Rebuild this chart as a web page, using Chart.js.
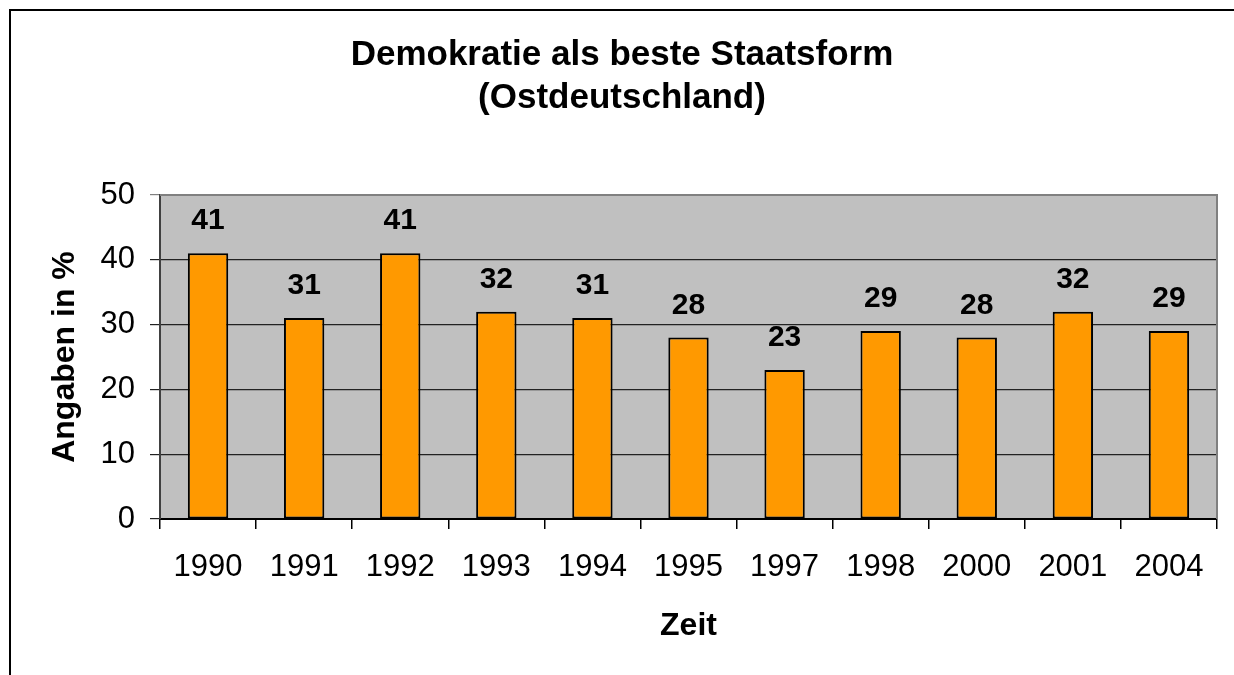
<!DOCTYPE html>
<html>
<head>
<meta charset="utf-8">
<title>Demokratie als beste Staatsform</title>
<script src="https://cdn.jsdelivr.net/npm/chart.js@4.4.1/dist/chart.umd.min.js"></script>
<style>
  html, body { margin: 0; padding: 0; background: #fff; }
  #chart { display: block; }
</style>
</head>
<body>
<canvas id="chart" width="1234" height="675"></canvas>
<script>
(function() {
  'use strict';

  // data
  var YEARS  = ['1990', '1991', '1992', '1993', '1994', '1995', '1997', '1998', '2000', '2001', '2004'];
  var SHARES = [41, 31, 41, 32, 31, 28, 23, 29, 28, 32, 29];
  var TITLE  = ['Demokratie als beste Staatsform', '(Ostdeutschland)'];
  var Y_TITLE = 'Angaben in %';
  var X_TITLE = 'Zeit';

  var ORANGE = '#ff9900';
  var PLOT_BG = '#c0c0c0';
  var FONT = "'Liberation Sans', Arial, sans-serif";

  /* frame, plot background and value labels */
  var excelLook = {
    id: 'excelLook',
    beforeDraw: function(chart) {
      var c = chart.ctx, a = chart.chartArea;
      c.save();
      c.fillStyle = '#fff';
      c.fillRect(0, 0, chart.width, chart.height);
      c.strokeStyle = '#000';
      c.lineWidth = 2;
      c.beginPath();
      c.moveTo(10, chart.height + 5);
      c.lineTo(10, 10);
      c.lineTo(chart.width + 5, 10);
      c.stroke();
      c.fillStyle = PLOT_BG;
      c.fillRect(a.left, a.top, a.right - a.left, a.bottom - a.top);
      c.restore();
    },
    beforeDatasetsDraw: function(chart) {
      var c = chart.ctx, a = chart.chartArea;
      c.save();
      c.strokeStyle = '#808080';
      c.lineWidth = 2;
      c.beginPath();
      c.moveTo(a.left, a.top);
      c.lineTo(a.right, a.top);
      c.lineTo(a.right, a.bottom);
      c.stroke();
      c.restore();
    },
    afterDatasetsDraw: function(chart) {
      var c = chart.ctx;
      var bars = chart.getDatasetMeta(0).data;
      c.save();
      c.font = 'bold 30px ' + FONT;
      c.fillStyle = '#000';
      c.textAlign = 'center';
      c.textBaseline = 'alphabetic';
      bars.forEach(function(bar, i) {
        c.fillText(String(SHARES[i]), bar.x, bar.y - 24);
      });
      c.restore();
    }
  };

  new Chart(document.getElementById('chart'), {
    type: 'bar',
    data: {
      labels: YEARS,
      datasets: [{
        data: SHARES,
        backgroundColor: ORANGE,
        borderColor: '#000',
        borderWidth: 2,
        borderSkipped: false,
        barPercentage: 0.42,
        categoryPercentage: 1
      }]
    },
    options: {
      responsive: false,
      animation: false,
      devicePixelRatio: 1,
      layout: { padding: { left: 27, right: 17, top: 0, bottom: 0 } },
      plugins: {
        legend: { display: false },
        tooltip: { enabled: false },
        title: {
          display: true,
          text: TITLE,
          color: '#000',
          font: { family: FONT, size: 35, weight: 'bold', lineHeight: 1.22 },
          padding: { top: 34, bottom: 75.6 }
        }
      },
      scales: {
        x: {
          afterFit: function(scale) { scale.height = 156; },
          grid: { display: true, drawOnChartArea: false, offset: true, tickLength: 10, color: '#000', lineWidth: 1.5 },
          border: { color: '#000', width: 2 },
          ticks: { color: '#000', font: { family: FONT, size: 31 }, padding: 20, maxRotation: 0, autoSkip: false },
          title: {
            display: true,
            text: X_TITLE,
            color: '#000',
            font: { family: FONT, size: 32, weight: 'bold' },
            padding: { top: 0, bottom: 30 }
          }
        },
        y: {
          min: 0,
          max: 50,
          afterFit: function(scale) { scale.width = 133; },
          grid: {
            tickLength: 10,
            color: function(ctx) { return ctx.tick && ctx.tick.value === 50 ? '#808080' : '#222'; },
            lineWidth: 1.2
          },
          border: { color: '#404040', width: 2 },
          ticks: { stepSize: 10, color: '#000', font: { family: FONT, size: 31 }, padding: 15 },
          title: {
            display: true,
            text: Y_TITLE,
            color: '#000',
            font: { family: FONT, size: 32, weight: 'bold' },
            padding: { top: 19, bottom: 0 }
          }
        }
      }
    },
    plugins: [excelLook]
  });
})();
</script>
</body>
</html>
